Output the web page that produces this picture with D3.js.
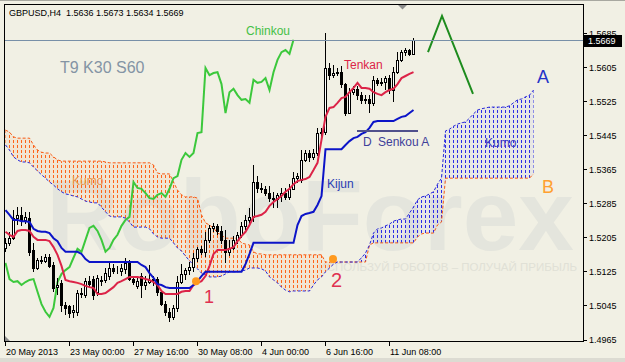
<!DOCTYPE html>
<html>
<head>
<meta charset="utf-8">
<script src="https://cdn.jsdelivr.net/npm/d3@7"></script>
<style>
  html, body { margin: 0; padding: 0; background: #f1f0e4; }
  svg { display: block; font-family: "Liberation Sans", Arial, sans-serif; }
</style>
</head>
<body>
<div id="chart"></div>
<script>
// GBPUSD H4, bars 20 May 08:00 .. 12 Jun 08:00 (index 0..102)
const openP = [
  1.5180,1.5192,1.5203,1.5250,1.5258,1.5246,1.5250,1.5175,1.5133,1.5152,
  1.5150,1.5159,1.5140,1.5088,1.5098,1.5046,1.5044,1.5030,1.5030,1.5074,
  1.5070,1.5102,1.5107,1.5077,1.5105,1.5105,1.5114,1.5133,1.5128,1.5126,
  1.5130,1.5145,1.5107,1.5090,1.5114,1.5093,1.5100,1.5105,1.5107,1.5077,
  1.5048,1.5030,1.5018,1.5039,1.5100,1.5119,1.5128,1.5135,1.5157,1.5178,
  1.5171,1.5199,1.5227,1.5232,1.5220,1.5199,1.5171,1.5180,1.5199,1.5211,
  1.5232,1.5246,1.5253,1.5335,1.5321,1.5319,1.5309,1.5297,1.5295,1.5305,
  1.5309,1.5300,1.5319,1.5344,1.5340,1.5387,1.5403,1.5394,1.5403,1.5450,
  1.5452,1.5603,1.5586,1.5591,1.5593,1.5565,1.5497,1.5546,1.5554,1.5539,
  1.5528,1.5530,1.5521,1.5575,1.5568,1.5570,1.5579,1.5551,1.5593,1.5622,
  1.5640,1.5645,1.5636
];
const highP = [
  1.5203,1.5218,1.5269,1.5276,1.5276,1.5265,1.5265,1.5192,1.5157,1.5161,
  1.5166,1.5166,1.5147,1.5110,1.5105,1.5053,1.5046,1.5046,1.5081,1.5086,
  1.5110,1.5114,1.5114,1.5117,1.5114,1.5133,1.5147,1.5142,1.5138,1.5142,
  1.5157,1.5152,1.5114,1.5114,1.5121,1.5114,1.5140,1.5114,1.5112,1.5081,
  1.5056,1.5039,1.5046,1.5114,1.5142,1.5133,1.5147,1.5168,1.5182,1.5185,
  1.5218,1.5234,1.5239,1.5236,1.5232,1.5222,1.5199,1.5208,1.5218,1.5241,
  1.5258,1.5274,1.5375,1.5349,1.5333,1.5326,1.5326,1.5312,1.5309,1.5321,
  1.5321,1.5330,1.5358,1.5356,1.5410,1.5410,1.5410,1.5413,1.5462,1.5462,
  1.5685,1.5614,1.5610,1.5603,1.5607,1.5568,1.5556,1.5561,1.5561,1.5546,
  1.5539,1.5539,1.5584,1.5579,1.5579,1.5584,1.5586,1.5605,1.5640,1.5645,
  1.5650,1.5647,1.5673
];
const lowP = [
  1.5171,1.5185,1.5199,1.5234,1.5232,1.5236,1.5161,1.5124,1.5128,1.5142,
  1.5145,1.5133,1.5077,1.5070,1.5030,1.5023,1.5016,1.5016,1.5020,1.5063,
  1.5063,1.5086,1.5058,1.5067,1.5091,1.5098,1.5105,1.5119,1.5119,1.5114,
  1.5119,1.5102,1.5093,1.5084,1.5063,1.5081,1.5095,1.5091,1.5067,1.5044,
  1.5020,1.5006,1.5011,1.5030,1.5095,1.5105,1.5117,1.5124,1.5147,1.5164,
  1.5159,1.5192,1.5218,1.5211,1.5189,1.5145,1.5161,1.5175,1.5189,1.5203,
  1.5222,1.5232,1.5241,1.5309,1.5309,1.5302,1.5288,1.5274,1.5274,1.5288,
  1.5293,1.5293,1.5316,1.5333,1.5333,1.5382,1.5382,1.5387,1.5396,1.5427,
  1.5445,1.5575,1.5579,1.5584,1.5556,1.5490,1.5495,1.5539,1.5528,1.5518,
  1.5518,1.5497,1.5514,1.5561,1.5561,1.5551,1.5542,1.5523,1.5589,1.5617,
  1.5631,1.5631,1.5634
];
const closeP = [
  1.5192,1.5203,1.5250,1.5258,1.5246,1.5253,1.5171,1.5133,1.5152,1.5150,
  1.5159,1.5138,1.5086,1.5093,1.5046,1.5039,1.5027,1.5034,1.5074,1.5072,
  1.5102,1.5095,1.5070,1.5110,1.5102,1.5121,1.5133,1.5126,1.5127,1.5133,
  1.5145,1.5107,1.5100,1.5102,1.5093,1.5100,1.5105,1.5107,1.5077,1.5048,
  1.5030,1.5018,1.5039,1.5100,1.5119,1.5128,1.5135,1.5157,1.5178,1.5171,
  1.5199,1.5227,1.5232,1.5220,1.5199,1.5171,1.5180,1.5199,1.5211,1.5232,
  1.5246,1.5253,1.5335,1.5321,1.5319,1.5309,1.5297,1.5295,1.5305,1.5309,
  1.5300,1.5319,1.5344,1.5349,1.5387,1.5403,1.5394,1.5403,1.5450,1.5452,
  1.5603,1.5586,1.5591,1.5593,1.5565,1.5497,1.5546,1.5554,1.5539,1.5528,
  1.5530,1.5521,1.5575,1.5568,1.5570,1.5579,1.5551,1.5593,1.5622,1.5640,
  1.5645,1.5636,1.5669
];
const tenkan = [
  1.5218,1.5211,1.5206,1.5220,1.5222,1.5222,1.5220,1.5206,1.5199,1.5199,
  1.5199,1.5196,1.5182,1.5164,1.5138,1.5105,1.5102,1.5100,1.5098,1.5095,
  1.5091,1.5088,1.5086,1.5072,1.5072,1.5074,1.5081,1.5088,1.5098,1.5102,
  1.5107,1.5112,1.5112,1.5112,1.5110,1.5107,1.5105,1.5100,1.5093,1.5079,
  1.5072,1.5072,1.5072,1.5072,1.5077,1.5079,1.5079,1.5093,1.5098,1.5102,
  1.5114,1.5138,1.5166,1.5175,1.5175,1.5175,1.5178,1.5182,1.5196,1.5208,
  1.5218,1.5234,1.5253,1.5255,1.5258,1.5265,1.5279,1.5288,1.5295,1.5302,
  1.5312,1.5319,1.5330,1.5337,1.5340,1.5342,1.5347,1.5363,1.5380,1.5434,
  1.5488,1.5509,1.5511,1.5521,1.5532,1.5535,1.5546,1.5556,1.5568,1.5556,
  1.5556,1.5554,1.5546,1.5542,1.5539,1.5546,1.5551,1.5554,1.5565,1.5579,
  1.5584,1.5589,1.5593
];
const kijun = [
  1.5269,1.5258,1.5246,1.5246,1.5243,1.5243,1.5241,1.5225,1.5220,1.5218,
  1.5218,1.5215,1.5203,1.5196,1.5180,1.5171,1.5171,1.5171,1.5171,1.5166,
  1.5154,1.5147,1.5147,1.5147,1.5147,1.5147,1.5147,1.5147,1.5147,1.5147,
  1.5147,1.5147,1.5147,1.5147,1.5140,1.5135,1.5121,1.5110,1.5095,1.5093,
  1.5088,1.5086,1.5086,1.5086,1.5086,1.5086,1.5086,1.5093,1.5102,1.5114,
  1.5124,1.5124,1.5124,1.5124,1.5124,1.5124,1.5124,1.5124,1.5124,1.5124,
  1.5142,1.5166,1.5192,1.5192,1.5192,1.5192,1.5192,1.5192,1.5192,1.5192,
  1.5192,1.5192,1.5192,1.5234,1.5255,1.5260,1.5262,1.5265,1.5281,1.5302,
  1.5412,1.5412,1.5412,1.5412,1.5412,1.5422,1.5431,1.5438,1.5441,1.5448,
  1.5452,1.5462,1.5476,1.5478,1.5478,1.5478,1.5478,1.5478,1.5483,1.5488,
  1.5490,1.5497,1.5504
];
// senkou spans, already shifted forward (index 0..132)
const senkouA = [
  1.5422,1.5410,1.5394,1.5387,1.5382,1.5382,1.5380,1.5370,1.5361,1.5352,
  1.5344,1.5335,1.5328,1.5319,1.5312,1.5307,1.5305,1.5302,1.5300,1.5295,
  1.5290,1.5288,1.5286,1.5286,1.5276,1.5265,1.5255,1.5253,1.5253,1.5253,
  1.5250,1.5241,1.5229,1.5229,1.5229,1.5229,1.5225,1.5213,1.5206,1.5203,
  1.5203,1.5203,1.5192,1.5180,1.5173,1.5161,1.5150,1.5140,1.5131,1.5121,
  1.5117,1.5112,1.5112,1.5112,1.5114,1.5119,1.5124,1.5124,1.5124,1.5126,
  1.5128,1.5133,1.5133,1.5133,1.5131,1.5126,1.5112,1.5105,1.5098,1.5088,
  1.5081,1.5077,1.5079,1.5079,1.5079,1.5079,1.5079,1.5093,1.5105,1.5112,
  1.5124,1.5133,1.5142,1.5147,1.5147,1.5147,1.5147,1.5147,1.5147,1.5157,
  1.5168,1.5187,1.5215,1.5225,1.5227,1.5232,1.5236,1.5243,1.5246,1.5248,
  1.5248,1.5262,1.5276,1.5293,1.5300,1.5302,1.5307,1.5312,1.5330,1.5344,
  1.5455,1.5459,1.5466,1.5471,1.5474,1.5476,1.5485,1.5495,1.5504,1.5507,
  1.5509,1.5511,1.5511,1.5511,1.5511,1.5511,1.5514,1.5521,1.5528,1.5530,
  1.5535,1.5539,1.5551
];
const senkouB = [
  1.5457,1.5452,1.5441,1.5438,1.5438,1.5438,1.5438,1.5422,1.5410,1.5405,
  1.5403,1.5403,1.5394,1.5387,1.5384,1.5384,1.5384,1.5384,1.5384,1.5384,
  1.5384,1.5384,1.5384,1.5384,1.5384,1.5382,1.5380,1.5380,1.5380,1.5380,
  1.5380,1.5380,1.5380,1.5380,1.5380,1.5380,1.5380,1.5375,1.5356,1.5354,
  1.5354,1.5354,1.5335,1.5316,1.5305,1.5300,1.5300,1.5300,1.5297,1.5258,
  1.5239,1.5234,1.5227,1.5215,1.5211,1.5203,1.5203,1.5203,1.5203,1.5192,
  1.5189,1.5187,1.5171,1.5166,1.5166,1.5164,1.5164,1.5164,1.5164,1.5164,
  1.5164,1.5164,1.5164,1.5164,1.5164,1.5164,1.5164,1.5164,1.5164,1.5164,
  1.5147,1.5147,1.5147,1.5147,1.5147,1.5147,1.5147,1.5147,1.5147,1.5147,
  1.5147,1.5187,1.5192,1.5192,1.5192,1.5192,1.5192,1.5192,1.5192,1.5192,
  1.5192,1.5192,1.5192,1.5206,1.5213,1.5215,1.5215,1.5215,1.5234,1.5241,
  1.5344,1.5344,1.5344,1.5344,1.5344,1.5344,1.5344,1.5344,1.5344,1.5344,
  1.5344,1.5344,1.5344,1.5344,1.5344,1.5344,1.5344,1.5344,1.5344,1.5344,
  1.5344,1.5344,1.5354
];
const CHINKOU_SHIFT = 30;
const timeTickBars = [0, 16, 32, 48, 64, 80, 96];
const timeTickLabels = ['20 May 2013', '23 May 00:00', '27 May 16:00', '30 May 08:00', '4 Jun 00:00', '6 Jun 16:00', '11 Jun 08:00'];
const priceTicks = [1.4965, 1.5045, 1.5125, 1.5205, 1.5285, 1.5365, 1.5445, 1.5525, 1.5605, 1.5685];
const lastPrice = 1.5669;
const header = 'GBPUSD,H4  1.5636 1.5673 1.5634 1.5669';
// annotation points [bar, price]
const crossDots = [[47.75, 1.5102], [82, 1.5154]];
const trendHint = [[105.75, 1.5640], [109.25, 1.5725], [117, 1.5542]];

const W = 625, H = 362;
const plot = { left: 4, top: 4, right: 583, bottom: 341 };

const svg = d3.select('#chart').append('svg').attr('width', W).attr('height', H);
svg.append('rect').attr('width', W).attr('height', H).attr('fill', '#f1f0e4');
svg.append('rect').attr('x', 0).attr('y', 0).attr('width', W).attr('height', 1).attr('fill', '#a8a8a0');
svg.append('rect').attr('x', 0).attr('y', 358).attr('width', W).attr('height', 4).attr('fill', '#dcdbd2');

const x = d3.scaleLinear().domain([-0.25, 144.5]).range([plot.left, plot.right]);
const y = d3.scaleLinear().domain([1.4965, 1.5685]).range([339.5, 33]);

const defs = svg.append('defs');
defs.append('clipPath').attr('id', 'clip').append('rect')
  .attr('x', plot.left).attr('y', plot.top)
  .attr('width', plot.right - plot.left).attr('height', plot.bottom - plot.top);

// hatch tiles: one 1px column per bar (bars sit at x = 5 + 4i), 3px dash / 2px gap
[['hatchBear', '#ff6418'], ['hatchBull', '#2c2ce6']].forEach(([id, col]) => {
  defs.append('pattern').attr('id', id).attr('patternUnits', 'userSpaceOnUse')
    .attr('x', 0).attr('y', 0).attr('width', 4).attr('height', 5)
    .append('rect').attr('x', 1).attr('y', 0).attr('width', 1).attr('height', 3).attr('fill', col);
});

const g = svg.append('g').attr('clip-path', 'url(#clip)');

// watermark
g.append('text').attr('x', 574).attr('y', 250).attr('text-anchor', 'end')
  .style('font-size', '100px').style('font-weight', 'bold').style('fill', '#e4e5dd').text('RoboForex');
g.append('text').attr('x', 577).attr('y', 271).attr('text-anchor', 'end')
  .style('font-size', '11.5px').style('fill', '#e0e0d6').text('ИСПОЛЬЗУЙ РОБОТОВ – ПОЛУЧАЙ ПРИБЫЛЬ');

// kumo: bear part (B above A) and bull part (A above B)
const kumo = senkouA.map((a, i) => ({ i, a, b: senkouB[i] }));
const bearArea = d3.area().x(d => x(d.i) + 0.5)
  .y0(d => y(d.a)).y1(d => y(Math.max(d.a, d.b)));
const bullArea = d3.area().x(d => x(d.i) + 0.5)
  .y0(d => y(d.b)).y1(d => y(Math.max(d.a, d.b)));
g.append('path').datum(kumo).attr('d', bearArea).attr('fill', '#f5a070').attr('fill-opacity', 0.13);
g.append('path').datum(kumo).attr('d', bearArea).attr('fill', 'url(#hatchBear)');
g.append('path').datum(kumo).attr('d', bullArea).attr('fill', '#6060f0').attr('fill-opacity', 0.06);
g.append('path').datum(kumo).attr('d', bullArea).attr('fill', 'url(#hatchBull)');

const line = d3.line().x((d, i) => x(i) + 0.5).y(d => y(d));
g.append('path').datum(senkouB).attr('d', line).attr('fill', 'none')
  .attr('stroke', '#f85a14').attr('stroke-width', 1).attr('stroke-dasharray', '3,2');
g.append('path').datum(senkouA).attr('d', line).attr('fill', 'none')
  .attr('stroke', '#2828d8').attr('stroke-width', 1).attr('stroke-dasharray', '3,2');

// chinkou: close shifted back
const chinkou = closeP.slice(CHINKOU_SHIFT);
g.append('path').datum(chinkou).attr('d', line).attr('fill', 'none')
  .attr('stroke', '#3cc83c').attr('stroke-width', 2);

// candles
const bars = closeP.map((c, i) => ({ i, o: openP[i], h: highP[i], l: lowP[i], c }));
g.selectAll('line.wick').data(bars).enter().append('line')
  .attr('class', 'wick')
  .attr('x1', d => x(d.i) + 0.5).attr('x2', d => x(d.i) + 0.5)
  .attr('y1', d => y(d.h)).attr('y2', d => y(d.l))
  .attr('stroke', '#000').attr('shape-rendering', 'crispEdges');
g.selectAll('rect.body').data(bars).enter().append('rect')
  .attr('class', 'body')
  .attr('x', d => x(d.i) - 0.5).attr('width', 2)
  .attr('y', d => Math.round(y(Math.max(d.o, d.c))) + 0.5)
  .attr('height', d => Math.max(0, Math.round(Math.abs(y(d.o) - y(d.c)))))
  .attr('fill', d => d.c >= d.o ? '#fff' : '#000')
  .attr('stroke', '#000').attr('stroke-width', 1);

g.append('path').datum(tenkan).attr('d', line).attr('fill', 'none')
  .attr('stroke', '#dc2448').attr('stroke-width', 2);
g.append('path').datum(kijun).attr('d', line).attr('fill', 'none')
  .attr('stroke', '#0c14c8').attr('stroke-width', 2);

// current price line
svg.append('line').attr('x1', plot.left).attr('x2', plot.right)
  .attr('y1', Math.round(y(lastPrice)) + 0.5).attr('y2', Math.round(y(lastPrice)) + 0.5)
  .attr('stroke', '#7890a8');

// annotations
g.selectAll('circle.dot').data(crossDots).enter().append('circle')
  .attr('class', 'dot')
  .attr('cx', d => x(d[0])).attr('cy', d => y(d[1])).attr('r', 4).attr('fill', '#ff9a1e');
g.append('path').datum(trendHint)
  .attr('d', d3.line().x(d => x(d[0])).y(d => y(d[1])))
  .attr('fill', 'none').attr('stroke', '#1e8c1e').attr('stroke-width', 2);
g.append('line').attr('x1', 357).attr('x2', 418).attr('y1', 131).attr('y2', 131)
  .attr('stroke', '#50508c').attr('stroke-width', 2);

const labels = [
  { t: 'T9 K30 S60', x: 60, y: 73, s: 16, c: '#8494a4' },
  { t: 'Chinkou', x: 246, y: 35, s: 12, c: '#46c046' },
  { t: 'Tenkan', x: 344, y: 69, s: 12, c: '#dc2448' },
  { t: 'Kijun', x: 327, y: 188, s: 12, c: '#2a3cb4' },
  { t: 'D', x: 363, y: 146, s: 12, c: '#40409a' },
  { t: 'Senkou A', x: 378, y: 146, s: 12, c: '#40409a' },
  { t: 'Kumo', x: 72, y: 185, s: 12, c: '#e8944a' },
  { t: 'Kumo', x: 485, y: 147, s: 12, c: '#3c3cc0' },
  { t: 'A', x: 537, y: 83, s: 18, c: '#2434c8' },
  { t: 'B', x: 542, y: 193, s: 18, c: '#ffa030' },
  { t: '1', x: 204, y: 303, s: 18, c: '#e03050' },
  { t: '2', x: 331, y: 287, s: 20, c: '#e03050' }
];
g.selectAll('text.lbl').data(labels).enter().append('text')
  .attr('class', 'lbl')
  .attr('x', d => d.x).attr('y', d => d.y)
  .style('font-size', d => d.s + 'px').style('fill', d => d.c).text(d => d.t);

// small markers
svg.append('path').attr('d', 'M398,5 L407,5 L402.5,9.5 Z').attr('fill', '#8c8c8c');
svg.append('path').attr('d', 'M5,336 L5,341 L10,341 Z').attr('fill', '#8c8c8c');

// frame
svg.append('rect').attr('x', plot.left + 0.5).attr('y', plot.top + 0.5)
  .attr('width', plot.right - plot.left).attr('height', plot.bottom - plot.top)
  .attr('fill', 'none').attr('stroke', '#000');

// price axis
const yAxis = svg.append('g');
yAxis.selectAll('line').data(priceTicks).enter().append('line')
  .attr('x1', plot.right + 1).attr('x2', plot.right + 4)
  .attr('y1', d => Math.round(y(d)) + 0.5).attr('y2', d => Math.round(y(d)) + 0.5)
  .attr('stroke', '#000');
yAxis.selectAll('text').data(priceTicks).enter().append('text')
  .attr('x', plot.right + 6).attr('y', d => y(d) + 3.5)
  .style('font-size', '9px').style('fill', '#000').text(d => d.toFixed(4));

svg.append('rect').attr('x', plot.right + 1).attr('y', Math.round(y(lastPrice)) - 5)
  .attr('width', 38).attr('height', 12).attr('fill', '#000');
svg.append('text').attr('x', plot.right + 5).attr('y', y(lastPrice) + 4)
  .style('font-size', '9px').style('fill', '#fff').text(lastPrice.toFixed(4));

// time axis
const xAxis = svg.append('g');
xAxis.selectAll('line').data(timeTickBars).enter().append('line')
  .attr('x1', d => x(d) + 0.5).attr('x2', d => x(d) + 0.5)
  .attr('y1', plot.bottom + 1).attr('y2', plot.bottom + 5).attr('stroke', '#000');
xAxis.selectAll('text').data(timeTickBars).enter().append('text')
  .attr('x', d => x(d) + 1).attr('y', 355)
  .style('font-size', '9px').style('fill', '#000').text((d, i) => timeTickLabels[i]);

svg.append('text').attr('x', 9).attr('y', 16)
  .style('font-size', '9px').style('fill', '#000')
  .attr('xml:space', 'preserve').text(header);
</script>
</body>
</html>
